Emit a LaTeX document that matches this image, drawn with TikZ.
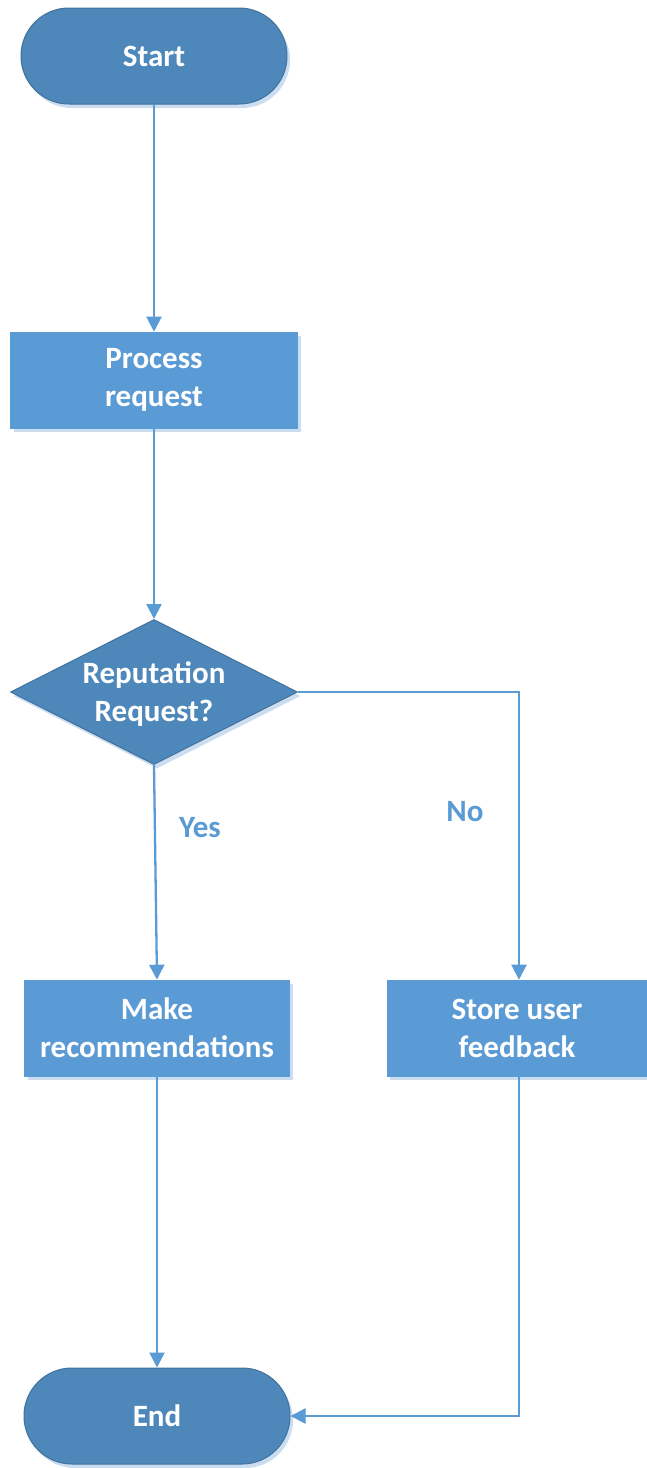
\documentclass[tikz,border=0pt]{standalone}
\usepackage{fontspec}
\setmainfont{Carlito}
\usetikzlibrary{shapes.geometric, arrows.meta, shadows}
\definecolor{termfill}{HTML}{4E88BB}
\definecolor{termline}{HTML}{41719C}
\definecolor{procfill}{HTML}{5B9BD5}
\definecolor{shade}{HTML}{CADDF1}
\definecolor{flow}{HTML}{5B9BD5}
\begin{document}
\begin{tikzpicture}[x=1pt, y=-1pt,
  base/.style={font=\bfseries\fontsize{31}{38}\selectfont, text=white, align=center, inner sep=0pt},
  softshadow/.style={drop shadow={shadow xshift=3pt, shadow yshift=-4pt, fill=shade, opacity=1}},
  terminal/.style={base, softshadow, rectangle, rounded corners=47.9pt, fill=termfill, draw=termline, line width=1pt,
    minimum width=266pt, minimum height=96pt},
  process/.style={base, softshadow, rectangle, fill=procfill, draw=procfill, line width=0.6pt,
    minimum width=#1, minimum height=96pt},
  decision/.style={softshadow, diamond, fill=termfill, draw=termline, line width=1pt, inner sep=0pt,
    minimum width=287pt, minimum height=145pt},
  flowline/.style={draw=flow, line width=2.3pt, -{Triangle[length=15pt, width=15pt]}},
  branch/.style={font=\bfseries\fontsize{31}{38}\selectfont, text=flow, inner sep=0pt}
]
\useasboundingbox (0,0) rectangle (647,1468);

\node[terminal] (start) at (154,56) {Start};
\node[process=287pt] (proc) at (154,380) {\raisebox{-2pt}{Process}\\\raisebox{-2pt}{request}};
\node[decision] (dec) at (154,692) {};
\node[base] (dectext) at (154,694) {Reputation\\Request?};
\node[process=265pt] (make) at (157,1028) {\raisebox{-2pt}{Make}\\\raisebox{-2pt}{recommendations}};
\node[process=260pt] (store) at (517,1028) {\raisebox{-2pt}{Store user}\\\raisebox{-2pt}{feedback}};
\node[terminal] (stop) at (157,1416) {End};

\node[branch] (yes) at (200,828) {Yes};
\node[branch] (no) at (465,812) {No};

\draw[flowline] (start) -- (proc);
\draw[flowline] (proc) -- (dec);
\draw[flowline] (dec.south) -- (make.north);
\draw[flowline] (dec.east) -| ([xshift=2pt]store.north);
\draw[flowline] (make) -- (stop);
\draw[flowline] ([xshift=2pt]store.south) |- (stop.east);
\end{tikzpicture}
\end{document}
